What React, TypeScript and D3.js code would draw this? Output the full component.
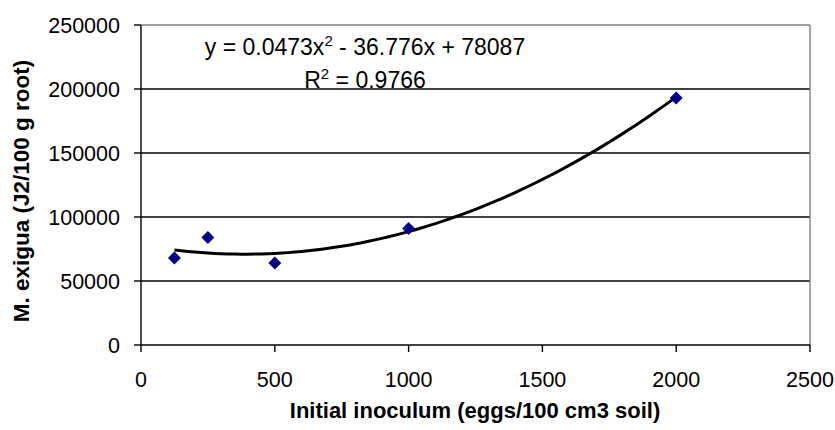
import React from "react";
import * as d3 from "d3";

const xValues = [125, 250, 500, 1000, 2000];
const yValues = [68000, 84000, 64000, 91000, 193000];
const xTicks = [0, 500, 1000, 1500, 2000, 2500];
const yTicks = [0, 50000, 100000, 150000, 200000, 250000];
const coeffs = [0.0473, -36.776, 78087];
const trendXs = d3.range(125, 2001, 25);

const W = 835, H = 430;
const left = 141, right = 810, top = 25, bottom = 345;
const font = "'Liberation Sans', Arial, sans-serif";

export default function App() {
  const x = d3.scaleLinear().domain([0, 2500]).range([left, right]);
  const y = d3.scaleLinear().domain([0, 250000]).range([bottom, top]);
  const trend = trendXs.map((v) => [v, coeffs[0] * v * v + coeffs[1] * v + coeffs[2]]);
  const line = d3.line<number[]>().x((d) => x(d[0])).y((d) => y(d[1]));
  return (
    <svg width={W} height={H} style={{ position: "absolute", left: 0, top: 0, background: "#fff" }}>
      <rect x={0} y={0} width={W} height={H} fill="#fff" />
      {yTicks.slice(1, -1).map((t) => (
        <line key={t} x1={left} x2={right} y1={y(t)} y2={y(t)} stroke="#000" strokeWidth={1.4} />
      ))}
      <line x1={left} x2={right} y1={top} y2={top} stroke="#808080" strokeWidth={1.4} />
      <line x1={right} x2={right} y1={top} y2={bottom} stroke="#808080" strokeWidth={1.4} />
      <line x1={left} x2={left} y1={top} y2={bottom} stroke="#000" strokeWidth={1.4} />
      <line x1={left} x2={right} y1={bottom} y2={bottom} stroke="#000" strokeWidth={1.4} />
      {yTicks.map((t) => (
        <g key={t}>
          <line x1={left - 7} x2={left} y1={y(t)} y2={y(t)} stroke="#000" strokeWidth={1.4} />
          <text x={120} y={y(t)} dy="0.36em" textAnchor="end" fontFamily={font} fontSize={21.5}>{t}</text>
        </g>
      ))}
      {xTicks.map((t) => (
        <g key={t}>
          <line x1={x(t)} x2={x(t)} y1={bottom} y2={bottom + 7} stroke="#000" strokeWidth={1.4} />
          <text x={x(t)} y={387} textAnchor="middle" fontFamily={font} fontSize={21.5}>{t}</text>
        </g>
      ))}
      <path d={line(trend) || ""} fill="none" stroke="#000" strokeWidth={3} strokeLinejoin="round" />
      {xValues.map((v, i) => {
        const cx = x(v), cy = y(yValues[i]);
        const s = 6.5;
        return (
          <path key={v} d={`M${cx},${cy - s}L${cx + s},${cy}L${cx},${cy + s}L${cx - s},${cy}Z`} fill="#000080" />
        );
      })}
      <text x={365} y={55} textAnchor="middle" fontFamily={font} fontSize={23}>
        y = 0.0473x<tspan dy={-9} fontSize={15}>2</tspan><tspan dy={9}> - 36.776x + 78087</tspan>
      </text>
      <text x={365} y={88} textAnchor="middle" fontFamily={font} fontSize={23}>
        R<tspan dy={-9} fontSize={15}>2</tspan><tspan dy={9}> = 0.9766</tspan>
      </text>
      <text transform={`translate(29,191) rotate(-90)`} textAnchor="middle" fontFamily={font} fontSize={22.5} fontWeight="bold">
        M. exigua (J2/100 g root)
      </text>
      <text x={475} y={418} textAnchor="middle" fontFamily={font} fontSize={22} fontWeight="bold">
        Initial inoculum (eggs/100 cm3 soil)
      </text>
    </svg>
  );
}
